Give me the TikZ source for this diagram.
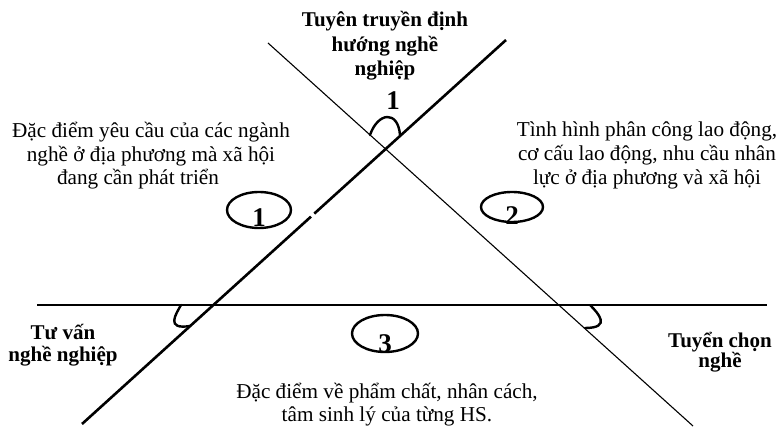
\documentclass[tikz,border=0pt]{standalone}
\usepackage{fontspec}
\setmainfont{Liberation Serif}
\usetikzlibrary{shapes.geometric}
\begin{document}
\begin{tikzpicture}[x=1pt,y=-1pt,
  thickline/.style={line width=2.6pt},
  thinline/.style={line width=1.1pt},
  anglemark/.style={line width=2.4pt, line cap=round},
  numell/.style={draw, ellipse, line width=2.4pt, inner sep=0pt},
  plain/.style={align=center, anchor=base, inner sep=0pt, font=\fontsize{21.2}{23.5}\selectfont},
  boldlbl/.style={align=center, anchor=base, inner sep=0pt, font=\bfseries\fontsize{21}{23}\selectfont},
  digit/.style={anchor=base, inner sep=0pt, font=\bfseries\fontsize{27}{27}\selectfont}]
\useasboundingbox (0,0) rectangle (780,446);
% lines
\coordinate (A) at (82,424);
\coordinate (G1) at (311,216.6);
\coordinate (G2) at (314.3,213.6);
\coordinate (B) at (506,40);
\coordinate (C) at (268,43);
\coordinate (D) at (693,426);
\coordinate (H1) at (37,305);
\coordinate (H2) at (767,305);
\draw[thickline] (A) -- (G1);
\draw[thickline] (G2) -- (B);
\draw[thinline] (C) -- (D);
\draw[thickline] (H1) -- (H2);
% angle marks
\draw[anglemark] (370,135) .. controls (378,112) and (398,110) .. (400,135);
\draw[anglemark] (181,305) .. controls (176,314) and (165,330) .. (190,326);
\draw[anglemark] (590,305) .. controls (598,313) and (612,328) .. (585,328);
% ellipses
\node[numell, minimum width=64pt, minimum height=36pt] (e1) at (259,210) {};
\node[digit] (n1) at (259,227) {1};
\node[numell, minimum width=62pt, minimum height=30pt] (e2) at (512,207) {};
\node[digit] (n2) at (512,225) {2};
\node[numell, minimum width=66pt, minimum height=37pt] (e3) at (385,333.5) {};
\node[digit] (n3) at (385,353) {3};
% top number
\node[digit] (top1) at (393,110) {1};
% texts (base anchor = baseline of the last line)
\node[boldlbl, font=\bfseries\fontsize{21}{24.5}\selectfont] (title) at (385,76) {Tuyên truyền định\\hướng nghề\\nghiệp};
\node[plain] (left) at (151,185) {Đặc điểm yêu cầu của các ngành\\nghề ở địa phương mà xã hội\\đang cần phát triển\hspace*{26pt}};
\node[plain, font=\fontsize{21.2}{24}\selectfont] (right) at (647,185) {Tình hình phân công lao động,\\cơ cấu lao động, nhu cầu nhân\\lực ở địa phương và xã hội};
\node[boldlbl, font=\bfseries\fontsize{21}{22}\selectfont] (tuvan) at (63,362) {Tư vấn\\nghề nghiệp};
\node[boldlbl, font=\bfseries\fontsize{21}{20}\selectfont] (tuyen) at (720,368) {Tuyển chọn\\nghề};
\node[plain] (bottom) at (387,422) {Đặc điểm về phẩm chất, nhân cách,\\tâm sinh lý của từng HS.};
\end{tikzpicture}
\end{document}
